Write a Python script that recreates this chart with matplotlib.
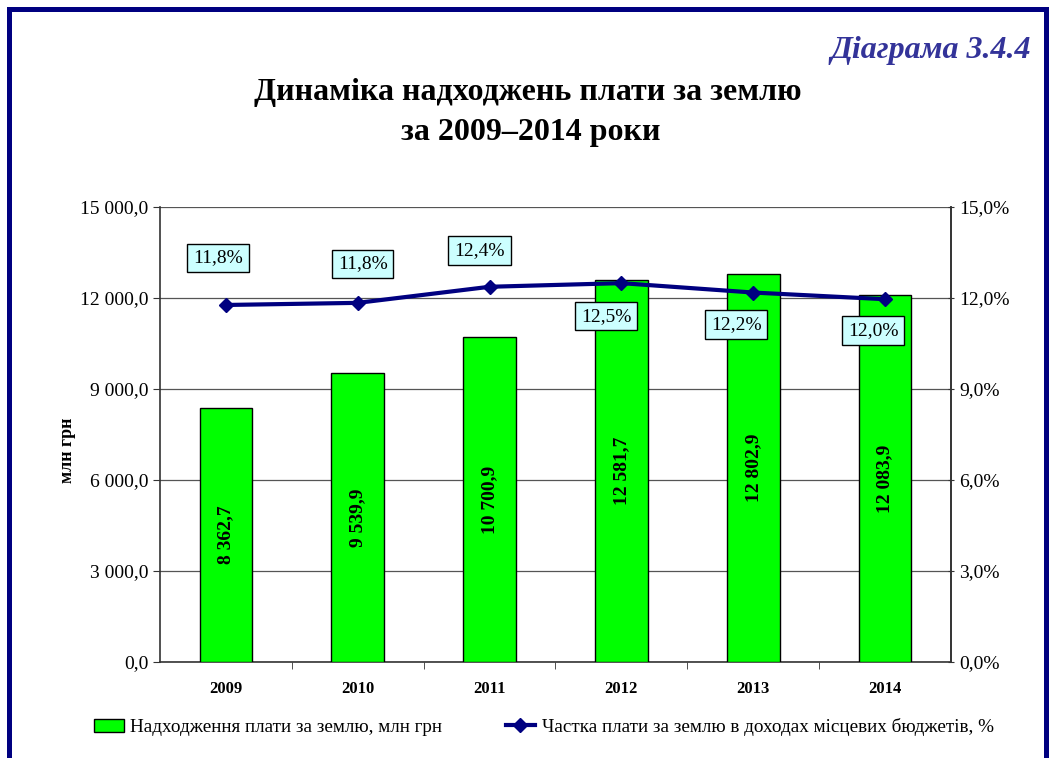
import matplotlib
matplotlib.use("Agg")
import matplotlib.pyplot as plt
from matplotlib.patches import Patch, Rectangle
from matplotlib.lines import Line2D
from matplotlib.ticker import FuncFormatter, MultipleLocator

plt.rcParams['font.family'] = ['Liberation Serif', 'DejaVu Serif']

years = ['2009', '2010', '2011', '2012', '2013', '2014']
revenue = [8362.7, 9539.9, 10700.9, 12581.7, 12802.9, 12083.9]
share = [11.77, 11.84, 12.37, 12.49, 12.18, 11.96]
share_labels = ['11,8%', '11,8%', '12,4%', '12,5%', '12,2%', '12,0%']

title_line1 = 'Динаміка надходжень плати за землю'
title_line2 = 'за 2009–2014 роки'
diagram_no = 'Діаграма 3.4.4'
ylabel = 'млн грн'
legend_bar = 'Надходження плати за землю, млн грн'
legend_line = 'Частка плати за землю в доходах місцевих бюджетів, %'

W, H = 1052, 758

# label offsets (pixels) for the percentage boxes
label_offsets = [(-8, 47), (5, 39), (-10, 36), (-15, -33), (-17, -32), (-12, -31)]

fig = plt.figure(figsize=(W / 100, H / 100), dpi=100)
fig.patch.set_facecolor('white')

# navy frame (bottom edge lies outside the picture)
fig.patches.append(Rectangle((9.5 / W, -0.05), (1045.5 - 9.5) / W, 1.05 - 9.5 / H,
                             transform=fig.transFigure, fill=False, edgecolor='#000080',
                             linewidth=3.6, zorder=0))

ax = fig.add_axes([160 / W, 1 - 662 / H, (951 - 160) / W, (662 - 207) / H])
x = list(range(len(years)))
ax.bar(x, revenue, width=0.4, color='#00FF00', edgecolor='black', linewidth=1, zorder=3)
ax.set_xlim(-0.5, len(years) - 0.5)
ax.set_ylim(0, 15000)
ax.yaxis.set_major_locator(MultipleLocator(3000))
ax.yaxis.set_major_formatter(FuncFormatter(lambda v, p: f'{v:,.1f}'.replace(',', ' ').replace('.', ',')))
ax.grid(axis='y', color='#555555', linewidth=0.9, zorder=0)
ax.set_axisbelow(True)
ax.set_xticks(x)
ax.set_xticklabels(years, fontsize=12, fontweight='bold')
ax.set_xticks([i + 0.5 for i in x[:-1]], minor=True)
ax.tick_params(axis='x', which='major', length=0, pad=14)
ax.tick_params(axis='x', which='minor', length=5, direction='out', color='#333333')
ax.tick_params(axis='y', labelsize=14, length=5, direction='out', color='#333333')
ax.spines['top'].set_visible(False)
for s in ['left', 'bottom', 'right']:
    ax.spines[s].set_color('#333333')
    ax.spines[s].set_linewidth(1.2)

fig.text(67 / W, 1 - 450 / H, ylabel, rotation=90, ha='center', va='center',
         fontsize=13, fontweight='bold')

for i, v in enumerate(revenue):
    txt = f'{v:,.1f}'.replace(',', ' ').replace('.', ',')
    ax.text(i, v / 2, txt, rotation=90, ha='center', va='center',
            fontsize=14, fontweight='bold', zorder=4)

ax2 = ax.twinx()
ax2.set_ylim(0, 15)
ax2.yaxis.set_major_locator(MultipleLocator(3))
ax2.yaxis.set_major_formatter(FuncFormatter(lambda v, p: f'{v:.1f}%'.replace('.', ',')))
ax2.tick_params(axis='y', labelsize=14, length=5, direction='inout', color='#333333')
for s in ['top', 'left', 'bottom']:
    ax2.spines[s].set_visible(False)
ax2.spines['right'].set_color('#333333')
ax2.spines['right'].set_linewidth(1.2)
ax2.plot(x, share, color='#000080', linewidth=3, marker='D', markersize=7, zorder=5)

for i, (v, lab) in enumerate(zip(share, share_labels)):
    dx, dy = label_offsets[i]
    ax2.annotate(lab, (i, v), xytext=(dx, dy), textcoords='offset pixels',
                 ha='center', va='center', fontsize=14,
                 bbox=dict(boxstyle='square,pad=0.3', facecolor='#CCFFFF',
                           edgecolor='black', linewidth=1))

fig.text(528 / W, 1 - 100 / H, title_line1, ha='center', va='baseline',
         fontsize=23, fontweight='bold')
fig.text(531 / W, 1 - 140 / H, title_line2, ha='center', va='baseline',
         fontsize=23, fontweight='bold')
fig.text(1031 / W, 1 - 58 / H, diagram_no, ha='right', va='baseline',
         fontsize=23, fontweight='bold', fontstyle='italic', color='#333399')

handles = [Patch(facecolor='#00FF00', edgecolor='black', linewidth=1),
           Line2D([0], [0], color='#000080', linewidth=3, marker='D', markersize=7)]
fig.legend(handles, [legend_bar, legend_line], loc='center', ncol=2,
           bbox_to_anchor=(544 / W, 1 - 727 / H), frameon=False, fontsize=13.8,
           columnspacing=3.3, handlelength=1.55, handletextpad=0.35)

fig.savefig('out.png', dpi=100, facecolor='white')
